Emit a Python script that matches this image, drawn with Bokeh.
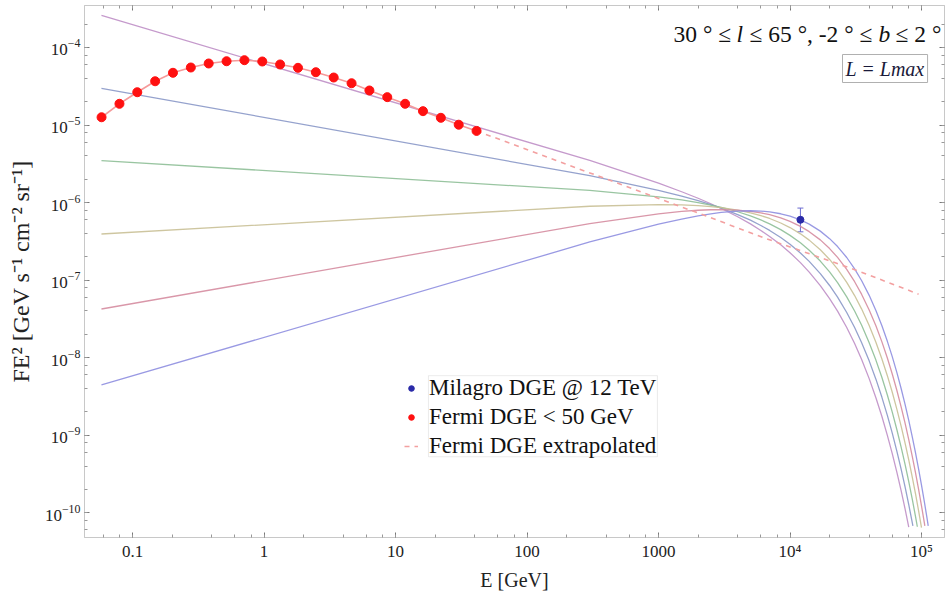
from bokeh.plotting import figure
from bokeh.models import (LogAxis, LogTicker, Label, Legend, LegendItem, CustomJSTickFormatter,
                          BoxAnnotation, Whisker, ColumnDataSource, TeeHead, Range1d)
from bokeh.embed import file_html
from bokeh.resources import INLINE

# ---------------- data ----------------
fermi_E = [0.0581, 0.0795, 0.1086, 0.1485, 0.2029, 0.2774, 0.3793, 0.5187, 0.7090, 0.9694,
           1.325, 1.812, 2.477, 3.386, 4.630, 6.329, 8.653, 11.83, 16.17, 22.11, 30.23, 41.32]
fermi_F = [1.26e-5, 1.88e-5, 2.65e-5, 3.67e-5, 4.72e-5, 5.52e-5, 6.22e-5, 6.65e-5, 6.86e-5, 6.60e-5,
           6.04e-5, 5.47e-5, 4.80e-5, 4.10e-5, 3.46e-5, 2.79e-5, 2.29e-5, 1.88e-5, 1.51e-5, 1.24e-5,
           1.01e-5, 8.4e-6]

extrap_E = [41.32, 2086, 6700, 32400, 95000]
extrap_F = [8.4e-6, 7.14e-7, 3.4e-7, 1.33e-7, 6.6e-8]

milagro_E = [12000]
milagro_F = [6.0e-7]
milagro_hi = [8.5e-7]
milagro_lo = [4.2e-7]

# model curves: energies (GeV) and log10(E^2 F);
# the last value of each curve belongs to curve_end_E
model_E = [0.058, 300, 1000, 1500, 2000, 2500, 3000, 4000, 5000, 6000, 7000, 8500, 10000,
           12000, 14000, 17000, 20000, 23000, 27000, 31000, 35000, 40000, 45000, 50000,
           55000, 60000, 65000, 70000, 75000, 80000, 85000, 90000, 95000, 100000, 105000, 110000]
curve_end_E = [80000, 86000, 93000, 100000, 106000, 112500]
curve_logF = [
    [-3.587, -5.457, -5.749, -5.860, -5.944, -6.015, -6.076, -6.183, -6.275, -6.359, -6.437,
     -6.545, -6.646, -6.774, -6.896, -7.070, -7.238, -7.400, -7.611, -7.818, -8.021, -8.270,
     -8.516, -8.759, -9.001, -9.240, -9.478, -9.714, -9.950, -10.184],
    [-4.526, -5.653, -5.841, -5.916, -5.976, -6.027, -6.072, -6.154, -6.227, -6.295, -6.359,
     -6.451, -6.538, -6.650, -6.758, -6.916, -7.069, -7.220, -7.417, -7.611, -7.803, -8.041,
     -8.277, -8.511, -8.744, -8.976, -9.207, -9.437, -9.666, -9.895, -10.124, -10.17],
    [-5.458, -5.843, -5.926, -5.965, -6.000, -6.032, -6.062, -6.118, -6.172, -6.224, -6.275,
     -6.349, -6.423, -6.519, -6.614, -6.754, -6.894, -7.032, -7.215, -7.398, -7.579, -7.806,
     -8.031, -8.256, -8.481, -8.705, -8.929, -9.153, -9.376, -9.599, -9.822, -10.045, -10.18],
    [-6.405, -6.047, -6.025, -6.030, -6.039, -6.052, -6.066, -6.098, -6.132, -6.168, -6.205,
     -6.263, -6.322, -6.403, -6.484, -6.608, -6.733, -6.859, -7.029, -7.199, -7.370, -7.585,
     -7.800, -8.016, -8.232, -8.449, -8.666, -8.883, -9.101, -9.318, -9.536, -9.754, -9.972,
     -10.190],
    [-7.372, -6.271, -6.145, -6.114, -6.099, -6.092, -6.090, -6.097, -6.112, -6.132, -6.156,
     -6.197, -6.242, -6.306, -6.375, -6.481, -6.593, -6.707, -6.862, -7.020, -7.181, -7.384,
     -7.589, -7.796, -8.004, -8.213, -8.423, -8.634, -8.845, -9.057, -9.270, -9.483, -9.696,
     -9.910, -10.124, -10.17],
    [-8.352, -6.508, -6.278, -6.212, -6.171, -6.145, -6.127, -6.109, -6.105, -6.109, -6.120,
     -6.144, -6.175, -6.223, -6.278, -6.368, -6.465, -6.567, -6.708, -6.855, -7.005, -7.196,
     -7.391, -7.589, -7.789, -7.990, -8.193, -8.397, -8.603, -8.809, -9.017, -9.225, -9.433,
     -9.643, -9.853, -10.063, -10.17],
]
curve_colors = ["#bf8fc6", "#8a98c8", "#8ebf97", "#c9c096", "#d58ca0", "#8e8ee0"]

x_view = (0.0431, 1.496e5)
y_view = (4.8e-11, 3.48e-4)
legend_box_x = (17.8, 981)
legend_box_y = (5.28e-10, 5.86e-9)

# ---------------- figure ----------------
SERIF = "Liberation Serif"
p = figure(width=952, height=593, x_axis_type="log", y_axis_type="log",
           x_range=Range1d(*x_view), y_range=Range1d(*y_view),
           output_backend="svg", toolbar_location=None,
           min_border_left=84, min_border_right=8, min_border_top=5, min_border_bottom=56)
p.xgrid.visible = False
p.ygrid.visible = False
p.outline_line_color = "#c8c8c8"
p.background_fill_color = "white"
p.border_fill_color = "white"

blank = CustomJSTickFormatter(code="return '';")
p.add_layout(LogAxis(ticker=LogTicker(desired_num_ticks=9), formatter=blank), "above")
p.add_layout(LogAxis(ticker=LogTicker(desired_num_ticks=9), formatter=blank), "right")

for ax in p.xaxis + p.yaxis:
    ax.axis_line_color = "#c8c8c8"
    ax.major_tick_line_color = "#777777"
    ax.minor_tick_line_color = "#999999"
    ax.major_tick_in = 5
    ax.major_tick_out = 0
    ax.minor_tick_in = 3
    ax.minor_tick_out = 0
    ax.major_label_text_font = SERIF
    ax.major_label_text_font_size = "17px"
    ax.major_label_text_color = "#222222"
    ax.major_label_standoff = 4

for ax in (p.above[0], p.right[0]):
    ax.major_label_text_font_size = "1px"
    ax.major_label_standoff = 0

xb = p.below[0]
yl = p.left[0]
xb.ticker = LogTicker(desired_num_ticks=9)
xb.formatter = CustomJSTickFormatter(code="""
const e = Math.round(Math.log10(tick));
if (e >= 4) {
  const sup = {'0':'\u2070','1':'\u00b9','2':'\u00b2','3':'\u00b3','4':'\u2074',
               '5':'\u2075','6':'\u2076','7':'\u2077','8':'\u2078','9':'\u2079'};
  return '10' + String(e).split('').map(c => sup[c]).join('');
}
if (tick >= 1) { return tick.toFixed(0); }
return String(parseFloat(tick.toPrecision(3)));
""")
yl.ticker = LogTicker(desired_num_ticks=9)

xb.axis_label = "E [GeV]"
yl.axis_label = "FE\u00b2 [GeV s\u207b\u00b9 cm\u207b\u00b2 sr\u207b\u00b9]"
for ax in (xb, yl):
    ax.axis_label_text_font = SERIF
    ax.axis_label_text_font_style = "normal"
    ax.axis_label_text_color = "#222222"
xb.axis_label_text_font_size = "20px"
yl.axis_label_text_font_size = "24px"
xb.axis_label_standoff = 5
yl.axis_label_standoff = 8

# model curves
for logs, e_end, col in zip(curve_logF, curve_end_E, curve_colors):
    xs = model_E[:len(logs) - 1] + [e_end]
    ys = [10.0 ** v for v in logs]
    p.line(xs, ys, line_color=col, line_width=1.3, line_alpha=0.9)

# Fermi extrapolation (dashed)
r_ext = p.line(extrap_E, extrap_F, line_color="#f3a0a0", line_width=1.6, line_dash="5 5")

# Fermi data
p.line(fermi_E, fermi_F, line_color="#f59a9a", line_width=1.6)
r_fermi = p.scatter(fermi_E, fermi_F, size=9, fill_color="#ff1010", line_color="#ff1010")

# Milagro point with error bar
msrc = ColumnDataSource(dict(x=milagro_E, y=milagro_F, hi=milagro_hi, lo=milagro_lo))
p.add_layout(Whisker(source=msrc, base="x", upper="hi", lower="lo", line_color="#6a6ad0",
                     line_width=1,
                     upper_head=TeeHead(size=6, line_color="#6a6ad0", line_width=1),
                     lower_head=TeeHead(size=6, line_color="#6a6ad0", line_width=1)))
r_mil = p.scatter("x", "y", source=msrc, size=7, fill_color="#2a2aa8", line_color="#2a2aa8")

legend = Legend(items=[LegendItem(label="Milagro DGE @ 12 TeV", renderers=[r_mil]),
                       LegendItem(label="Fermi DGE < 50 GeV", renderers=[r_fermi]),
                       LegendItem(label="Fermi DGE extrapolated", renderers=[r_ext])],
                location=(320, 77), orientation="vertical")
legend.label_text_font = SERIF
legend.label_text_font_size = "23px"
legend.label_text_color = "#111111"
legend.border_line_alpha = 0
legend.background_fill_alpha = 0
legend.glyph_width = 14
legend.glyph_height = 28
legend.label_height = 28
legend.label_standoff = 11
legend.spacing = 1
legend.padding = 0
legend.margin = 0
p.add_layout(legend, "center")

p.add_layout(BoxAnnotation(left=legend_box_x[0], right=legend_box_x[1],
                           bottom=legend_box_y[0], top=legend_box_y[1],
                           fill_alpha=0, line_color="#bdbdbd", line_width=1))

# region annotation (pieces to allow italic l and b)
pieces = [("30 \u00b0 \u2264", "normal", 589),
          ("l", "italic", 652),
          ("\u2264 65 \u00b0, -2 \u00b0 \u2264", "normal", 665),
          ("b", "italic", 794),
          ("\u2264 2 \u00b0", "normal", 811)]
for txt, style, xpos in pieces:
    p.add_layout(Label(x=xpos, y=504, x_units="screen", y_units="screen", text=txt,
                       text_font=SERIF, text_font_size="23.5px", text_font_style=style,
                       text_baseline="middle", text_align="left", text_color="#111111"))

p.add_layout(Label(x=758, y=469, x_units="screen", y_units="screen", text="L = Lmax",
                   text_font=SERIF, text_font_size="20px", text_font_style="italic",
                   text_baseline="middle", text_align="left", text_color="#1a1a3a",
                   border_line_color="#b0b0b0", background_fill_color="white", padding=3))

open("out.html", "w").write(file_html(p, INLINE))
